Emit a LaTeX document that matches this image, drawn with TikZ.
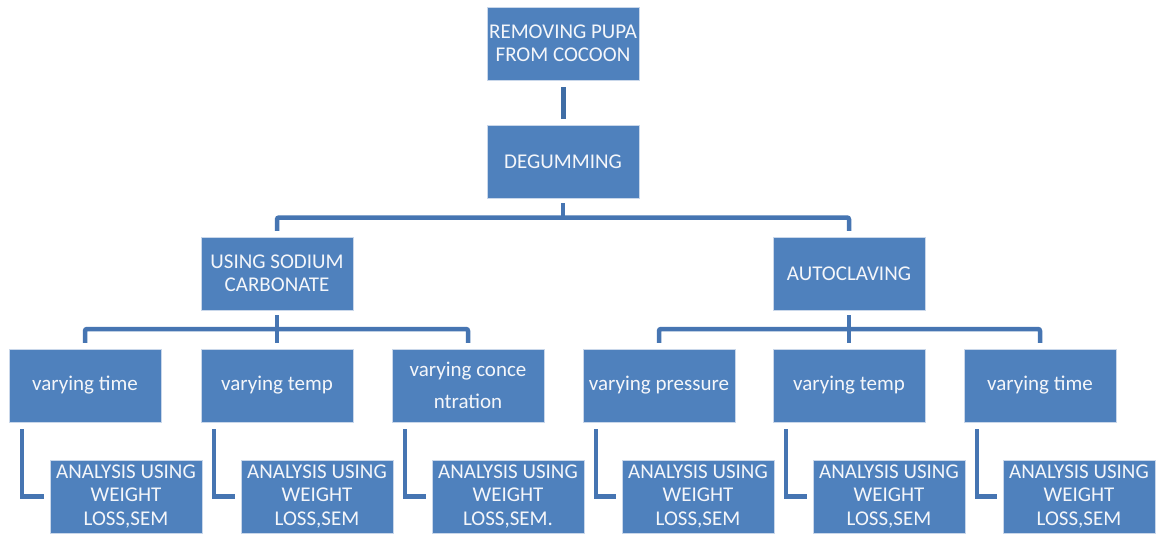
\documentclass[tikz,border=0pt]{standalone}
\usepackage{fontspec}
\setmainfont{Carlito}
\definecolor{boxblue}{HTML}{4F81BD}
\definecolor{lineblue}{HTML}{4675B2}
\definecolor{stubblue}{HTML}{3F6DA5}
\definecolor{txtwhite}{HTML}{F4F6FA}
\definecolor{edgecol}{HTML}{C9D7EA}
\begin{document}
\begin{tikzpicture}[x=1pt,y=-1pt,
  blk/.style={rectangle, fill=boxblue, draw=edgecol, line width=0.5pt,
    minimum width=152pt, minimum height=73pt, inner sep=0pt,
    text=txtwhite, align=center, font=\fontsize{21}{23.5}\selectfont},
  conn/.style={draw=lineblue, line width=4.5pt, rounded corners=2pt},
  stub/.style={draw=stubblue, line width=5pt}]
\useasboundingbox[fill=white] (0,0) rectangle (1159,536);

\node[blk] (top) at (563,43.5) {REMOVING PUPA\\FROM COCOON};
\node[blk] (deg) at (563,161.5) {DEGUMMING};
\node[blk] (sod) at (277,273.5) {USING SODIUM\\CARBONATE};
\node[blk] (aut) at (849,273.5) {AUTOCLAVING};

\node[blk] (v1) at (85,385.5) {varying time};
\node[blk] (v2) at (277,385.5) {varying temp};
\node[blk] (v3) at (468,385.5) {varying conce\\[8pt]ntration};
\node[blk] (v4) at (659,385.5) {varying pressure};
\node[blk] (v5) at (849,385.5) {varying temp};
\node[blk] (v6) at (1040,385.5) {varying time};

\node[blk] (a1) at (126,496.5) {ANALYSIS USING\\WEIGHT\\LOSS,SEM};
\node[blk] (a2) at (317,496.5) {ANALYSIS USING\\WEIGHT\\LOSS,SEM};
\node[blk] (a3) at (508,496.5) {ANALYSIS USING\\WEIGHT\\LOSS,SEM.};
\node[blk] (a4) at (698,496.5) {ANALYSIS USING\\WEIGHT\\LOSS,SEM};
\node[blk] (a5) at (889,496.5) {ANALYSIS USING\\WEIGHT\\LOSS,SEM};
\node[blk] (a6) at (1079,496.5) {ANALYSIS USING\\WEIGHT\\LOSS,SEM};

% top to degumming
\draw[stub] ([yshift=-7pt]top.south) -- ([yshift=6pt]deg.north);

% degumming split
\coordinate (dj) at (563,217.5);
\draw[conn] ([yshift=-5pt]deg.south) -- (dj);
\draw[conn] ([yshift=6pt]sod.north) |- (dj) -| ([yshift=6pt]aut.north);

% sodium split
\coordinate (sj) at (277,329);
\draw[conn] ([yshift=-5pt]sod.south) -- ([yshift=6pt]v2.north);
\draw[conn] ([yshift=6pt]v1.north) |- (sj) -| ([yshift=6pt]v3.north);

% autoclaving split
\coordinate (aj) at (849,329);
\draw[conn] ([yshift=-5pt]aut.south) -- ([yshift=6pt]v5.north);
\draw[conn] ([yshift=6pt]v4.north) |- (aj) -| ([yshift=6pt]v6.north);

% elbows to analysis
\foreach \v/\a in {v1/a1,v2/a2,v3/a3,v4/a4,v5/a5,v6/a6}{
  \draw[conn, rounded corners=0pt] ([xshift=13pt,yshift=-7pt]\v.south west) |- ([xshift=-6pt]\a.west);
}
\end{tikzpicture}
\end{document}
